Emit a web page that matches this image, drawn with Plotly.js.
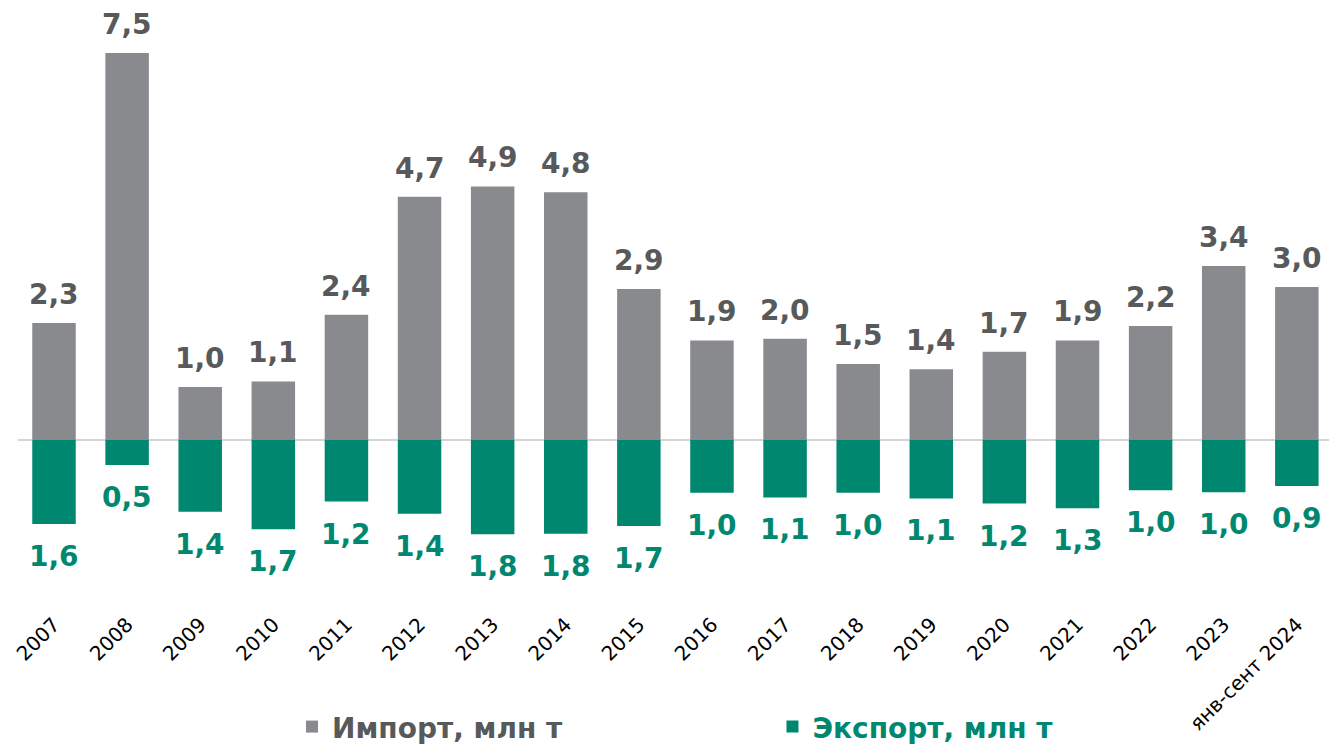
<!DOCTYPE html>
<html>
<head>
<meta charset="utf-8">
<script src="https://cdn.plot.ly/plotly-3.0.1.min.js"></script>
<style>html,body{margin:0;padding:0;background:#fff;}#chart{width:1329px;height:744px;}</style>
</head>
<body>
<div id="chart"></div>
<script>
const categories = ["2007","2008","2009","2010","2011","2012","2013","2014","2015","2016","2017","2018","2019","2020","2021","2022","2023","янв-сент 2024"];
const importVals = [2.28,7.54,1.03,1.14,2.44,4.74,4.94,4.83,2.94,1.94,1.97,1.48,1.38,1.72,1.94,2.22,3.39,2.98];
const exportVals = [1.64,0.49,1.40,1.74,1.20,1.44,1.84,1.83,1.68,1.03,1.12,1.03,1.14,1.24,1.33,0.98,1.02,0.90];
const importLabels = ["2,3","7,5","1,0","1,1","2,4","4,7","4,9","4,8","2,9","1,9","2,0","1,5","1,4","1,7","1,9","2,2","3,4","3,0"];
const exportLabels = ["1,6","0,5","1,4","1,7","1,2","1,4","1,8","1,8","1,7","1,0","1,1","1,0","1,1","1,2","1,3","1,0","1,0","0,9"];
const seriesNames = ["Импорт, млн т","Экспорт, млн т"];

const GRAY = "#898a8e", TEAL = "#00876f", LABELGRAY = "#58595b";
const FONT = "DejaVu Sans, Verdana, sans-serif";

const traces = [
  {type:"bar", x:categories, y:importVals, name:seriesNames[0], marker:{color:GRAY}, legend:"legend", hoverinfo:"skip"},
  {type:"bar", x:categories, y:exportVals.map(v=>-v), name:seriesNames[1], marker:{color:TEAL}, legend:"legend2", hoverinfo:"skip"}
];

const annotations = [];
categories.forEach((c,i)=>{
  annotations.push({x:i, y:importVals[i], text:importLabels[i], showarrow:false, yanchor:"bottom", yshift:10,
    font:{family:FONT, size:28, color:LABELGRAY, weight:"bold"}});
  annotations.push({x:i, y:-exportVals[i], text:exportLabels[i], showarrow:false, yanchor:"top", yshift:-14,
    font:{family:FONT, size:28, color:TEAL, weight:"bold"}});
});

const layout = {
  width:1329, height:744,
  margin:{l:18, r:0, t:10, b:144, autoexpand:false},
  paper_bgcolor:"#fff", plot_bgcolor:"#fff",
  barmode:"relative", bargap:0.405,
  font:{family:FONT},
  xaxis:{type:"category", range:[-0.4925, 17.44], tickangle:-45, showgrid:false, showline:false, ticks:"", automargin:false,
    ticklabelstandoff:8, tickfont:{family:FONT, size:20, color:"#000"}, fixedrange:true},
  yaxis:{range:[-3.12, 8.38], showgrid:false, showticklabels:false, zeroline:true, zerolinecolor:"#d4d4d4", zerolinewidth:2, automargin:false, fixedrange:true},
  showlegend:true,
  legend:{orientation:"h", x:0.209, xanchor:"left", y:0.023, yref:"container", yanchor:"middle", bgcolor:"rgba(0,0,0,0)",
    font:{family:FONT, size:28, color:LABELGRAY, weight:"bold"}},
  legend2:{orientation:"h", x:0.5755, xanchor:"left", y:0.023, yref:"container", yanchor:"middle", bgcolor:"rgba(0,0,0,0)",
    font:{family:FONT, size:28, color:TEAL, weight:"bold"}},
  annotations:annotations
};

Plotly.newPlot("chart", traces, layout, {displayModeBar:false, staticPlot:true});
</script>
</body>
</html>
